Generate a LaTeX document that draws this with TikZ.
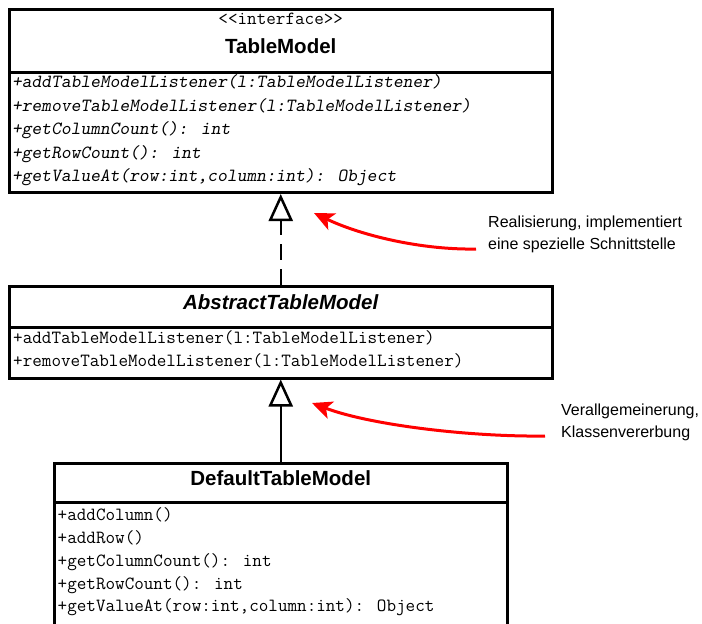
\documentclass[tikz,border=0pt]{standalone}
\usepackage{fontspec}
\setmainfont{Liberation Sans}
\setsansfont{Liberation Sans}
\newfontfamily\opslant{lmmonoslant10-regular.otf}
\usetikzlibrary{arrows.meta}

\begin{document}
\begin{tikzpicture}[x=1pt, y=-1pt,
    classbox/.style={draw, line width=3pt, inner sep=0pt, minimum width=542.5pt},
    cname/.style={inner sep=0pt, font=\sffamily\bfseries\fontsize{20.5}{24}\selectfont},
    op/.style={anchor=west, inner sep=0pt, text height=13.9pt, text depth=4.6pt, font=\ttfamily\fontsize{18.6}{22}\selectfont},
    opi/.style={op, font=\opslant\fontsize{18.6}{22}\selectfont},
    remark/.style={align=left, anchor=west, inner sep=0pt, font=\sffamily\fontsize{16}{22}\selectfont},
    realize/.style={line width=2.5pt, dash pattern=on 16pt off 9pt, -{Triangle[open, length=27pt, width=24pt]}},
    inherit/.style={line width=2.5pt, -{Triangle[open, length=27pt, width=24pt]}},
    hint/.style={red, line width=3pt, -{Stealth[length=20pt, width=18pt, inset=5pt]}}]
    \clip (0,0) rectangle (702,624);

    % interface
    \node[classbox, minimum height=62.5pt] (tm-head) at (280.75,40.75) {};
    \node[classbox, minimum height=120.5pt] (tm-body) at (280.75,132.25) {};
    \node[op, anchor=center] (tm-stereo) at (280.75,20) {<{}<interface>{}>};
    \node[cname] (tm-name) at (280.75,46) {TableModel};
    \foreach \txt [count=\i] in {{+addTableModelListener(l:TableModelListener)},
        {+removeTableModelListener(l:TableModelListener)},
        {+getColumnCount(): int}, {+getRowCount(): int},
        {+getValueAt(row:int,column:int): Object}}
        \node[opi] (tm-op\i) at (12, 59.5+23.5*\i) {\txt};

    % abstract class
    \node[classbox, minimum height=41pt] (atm-head) at (280.75,306.5) {};
    \node[classbox, minimum height=51pt] (atm-body) at (280.75,352.5) {};
    \node[cname, font=\sffamily\bfseries\itshape\fontsize{20.5}{24}\selectfont] (atm-name) at (280.75,302) {AbstractTableModel};
    \node[op] (atm-op1) at (13,339) {+addTableModelListener(l:TableModelListener)};
    \node[op] (atm-op2) at (13,362) {+removeTableModelListener(l:TableModelListener)};

    % concrete class
    \node[classbox, minimum width=453pt, minimum height=39pt] (dtm-head) at (280.75,482.5) {};
    \node[classbox, minimum width=453pt, minimum height=138pt] (dtm-body) at (280.75,571) {};
    \node[cname] (dtm-name) at (280.75,478) {DefaultTableModel};
    \foreach \txt [count=\i] in {{+addColumn()}, {+addRow()},
        {+getColumnCount(): int}, {+getRowCount(): int},
        {+getValueAt(row:int,column:int): Object}}
        \node[op] (dtm-op\i) at (57.5, 493.2+22.8*\i) {\txt};

    \draw[realize] (atm-head.north) -- (tm-body.south);
    \draw[inherit] (dtm-head.north) -- (atm-body.south);

    % remarks
    \node[remark] (real-note) at (488,234) {Realisierung, implementiert\\eine spezielle Schnittstelle};
    \node[remark] (gen-note) at (561,422) {Verallgemeinerung,\\Klassenvererbung};
    \coordinate (real-from) at (476,249);
    \coordinate (real-to) at (314,213);
    \coordinate (gen-from) at (545,436);
    \coordinate (gen-to) at (312,403);
    \draw[hint] (real-from) .. controls (420,250) and (360,235) .. (real-to);
    \draw[hint] (gen-from) .. controls (470,437) and (370,425) .. (gen-to);
\end{tikzpicture}
\end{document}
